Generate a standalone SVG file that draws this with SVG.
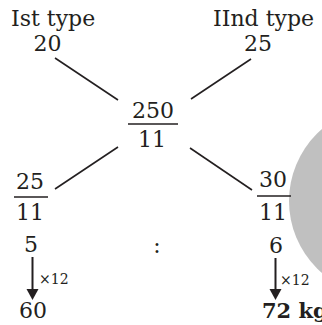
<svg xmlns="http://www.w3.org/2000/svg" width="322" height="325" viewBox="0 0 322 325">
  <style>
    text { font-family: "DejaVu Serif", "Liberation Serif", serif; fill: #231f20; font-size: 22px; }
    .m { text-anchor: middle; }
    .s { font-size: 14px; }
    .b { font-weight: bold; font-size: 21px; }
    .ln { stroke: #231f20; stroke-width: 1.6; fill: none; }
    .bar { stroke: #231f20; stroke-width: 1.5; }
  </style>
  <defs>
    <marker id="ah" markerWidth="12" markerHeight="11" refX="6" refY="11" orient="auto" markerUnits="userSpaceOnUse" viewBox="0 0 12 11">
      <path d="M0,0 L12,0 L6,11 Z" fill="#231f20"/>
    </marker>
  </defs>
  <rect width="322" height="325" fill="#ffffff"/>
  <circle cx="384" cy="201" r="95" fill="#c0c0c0"/>

  <g id="connectors">
    <line class="ln" x1="55" y1="58" x2="118" y2="100"/>
    <line class="ln" x1="251" y1="59" x2="191" y2="99"/>
    <line class="ln" x1="118" y1="147" x2="55" y2="189"/>
    <line class="ln" x1="190" y1="148" x2="252" y2="190"/>
    <line x1="32.5" y1="257" x2="32.5" y2="289" stroke="#231f20" stroke-width="2"/>
    <path d="M26.5,289 L38.5,289 L32.5,300 Z" fill="#231f20"/>
    <line x1="275.5" y1="258" x2="275.5" y2="289" stroke="#231f20" stroke-width="2"/>
    <path d="M269.5,289 L281.5,289 L275.5,300 Z" fill="#231f20"/>
  </g>

  <g id="type1">
    <text x="11" y="26">Ist type</text>
    <text class="m" x="47.5" y="51">20</text>
  </g>
  <g id="type2">
    <text x="213" y="26">IInd type</text>
    <text class="m" x="258" y="51">25</text>
  </g>
  <g id="mean">
    <text class="m" x="153" y="118">250</text>
    <line class="bar" x1="128" y1="124" x2="178" y2="124"/>
    <text class="m" x="152" y="147">11</text>
  </g>
  <g id="left-diff">
    <text class="m" x="30" y="189">25</text>
    <line class="bar" x1="14" y1="197" x2="48" y2="197"/>
    <text class="m" x="30" y="220">11</text>
  </g>
  <g id="right-diff">
    <text class="m" x="273" y="187">30</text>
    <line class="bar" x1="257" y1="196" x2="291" y2="196"/>
    <text class="m" x="273" y="220">11</text>
  </g>
  <g id="ratio">
    <text class="m" x="31" y="252">5</text>
    <text class="m" x="157" y="253">:</text>
    <text class="m" x="276" y="253">6</text>
  </g>
  <g id="mult-left">
    <text class="s" x="39" y="284">×12</text>
  </g>
  <g id="mult-right">
    <text class="s" x="280" y="285">×12</text>
  </g>
  <g id="result-left">
    <text class="m" x="33" y="318">60</text>
  </g>
  <g id="result-right">
    <text class="b" x="262" y="318">72 kg</text>
  </g>
</svg>
